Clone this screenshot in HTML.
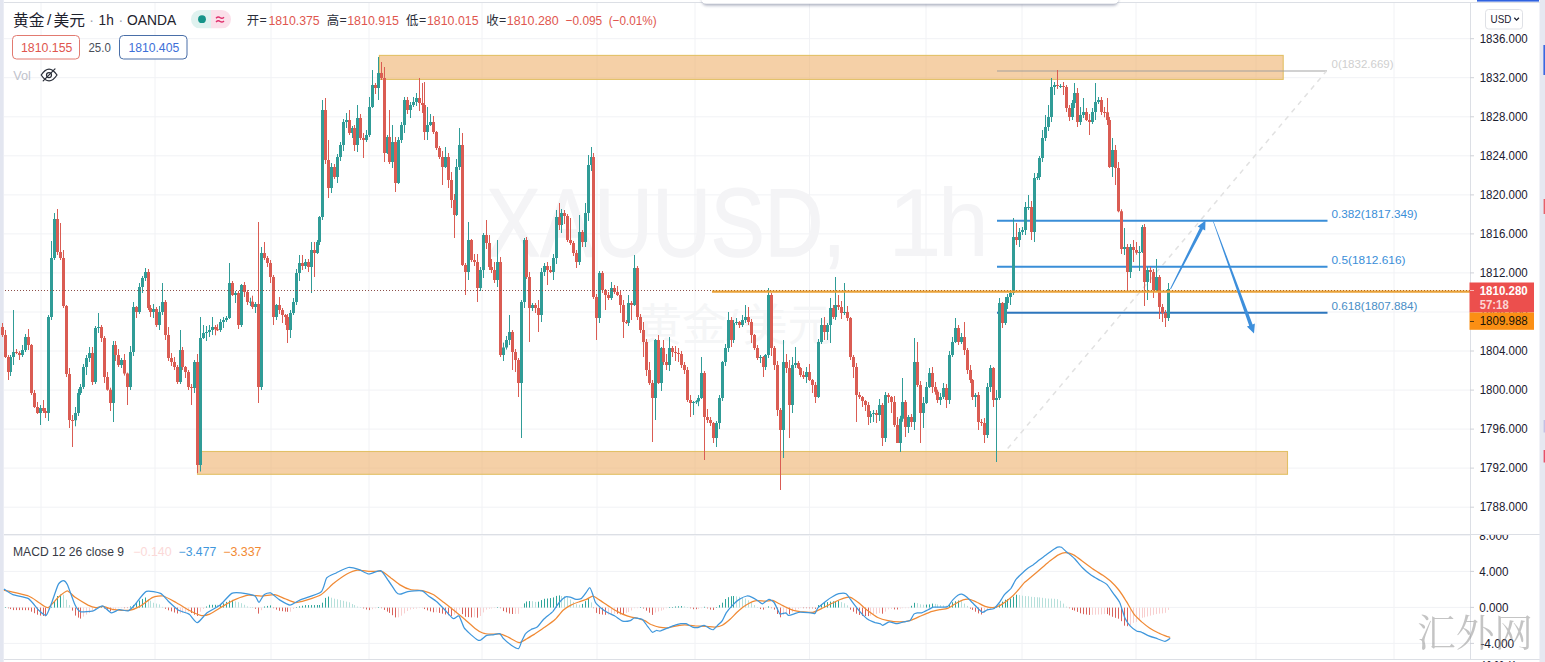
<!DOCTYPE html><html><head><meta charset="utf-8"><title>XAUUSD</title><style>html,body{margin:0;padding:0;background:#fff;width:1545px;height:662px;overflow:hidden}</style></head><body><svg width="1545" height="662" viewBox="0 0 1545 662" style="position:absolute;left:0;top:0;font-family:'Liberation Sans',sans-serif">
<rect width="1545" height="662" fill="#fff"/>
<path d="M41.0 3V659 M155.0 3V659 M271.0 3V659 M369.0 3V659 M482.0 3V659 M597.0 3V659 M695.0 3V659 M809.5 3V659 M926.0 3V659 M1022.0 3V659 M1136.0 3V659 M1256.0 3V659 M1394.0 3V659 M4 38.7H1470 M4 77.7H1470 M4 116.8H1470 M4 155.8H1470 M4 194.9H1470 M4 233.9H1470 M4 272.9H1470 M4 312.0H1470 M4 351.0H1470 M4 390.1H1470 M4 429.1H1470 M4 468.1H1470 M4 507.2H1470 M4 535.4H1470 M4 571.4H1470 M4 607.4H1470 M4 643.4H1470" stroke="#f1f2f5" stroke-width="1" fill="none"/>
<path d="M4 2.5H1540 M4 534.5H1540 M4 659.5H1540 M1470.5 3V659" stroke="#dcdfe5" stroke-width="1" fill="none"/>
<rect x="0" y="0" width="3.7" height="662" fill="#e3e6f0"/>
<rect x="1539.5" y="0" width="5.5" height="662" fill="#e6e8f1"/>
<rect x="1477" y="0" width="62" height="1.6" fill="#2f62e0"/>
<rect x="1543.4" y="45" width="1.6" height="30" fill="#3a68e0"/>
<rect x="1543.6" y="199" width="1.4" height="15" fill="#e8606a"/>
<rect x="1543.6" y="420" width="1.4" height="12.5" fill="#c4c0e4"/>
<rect x="1543.6" y="450" width="1.4" height="12.5" fill="#e8506a"/>
<text x="486.5" y="255.8" font-size="96.5" fill="#f4f4f6" stroke="#f4f4f6" stroke-width="1.4" stroke-linejoin="round" textLength="359" lengthAdjust="spacingAndGlyphs">XAUUSD,</text>
<text x="888" y="255.8" font-size="96.5" fill="#f4f4f6">1</text>
<text x="0" y="0" transform="translate(937.7,255.6) scale(0.951,1)" font-size="96.5" fill="#f4f4f6">h</text>
<text x="637" y="341" font-size="44" fill="#f5f6f7" font-family="'Liberation Sans','Noto Sans CJK SC',sans-serif" textLength="90" lengthAdjust="spacingAndGlyphs">黄金</text>
<text x="726" y="341" font-size="44" fill="#f5f6f7" font-family="'Liberation Sans','Noto Sans CJK SC',sans-serif">/</text>
<text x="743" y="341" font-size="44" fill="#f5f6f7" font-family="'Liberation Sans','Noto Sans CJK SC',sans-serif" textLength="89" lengthAdjust="spacingAndGlyphs">美元</text>
<rect x="379.4" y="55.4" width="903.8" height="24" fill="#eeb16c" fill-opacity="0.6" stroke="#e2c066" stroke-width="1.1"/>
<rect x="197.5" y="451.5" width="1090" height="22.8" fill="#eeb16c" fill-opacity="0.6" stroke="#e2c066" stroke-width="1.1"/>
<path d="M997 71H1327" stroke="#9c9c9c" stroke-opacity="0.62" stroke-width="1.6" fill="none"/>
<path d="M1007.7 448.5L1326.5 71" stroke="#e1e1e1" stroke-width="1.5" stroke-dasharray="5 5" fill="none"/>
<path d="M997 220.8H1327.5 M997 266.8H1327.5" stroke="#3a8ed8" stroke-width="2" fill="none"/>
<path d="M997 312.8H1327.5" stroke="#2d76bd" stroke-width="2" fill="none"/>
<text x="1331.5" y="67.8" font-size="11.8" fill="#cfcfcf" textLength="62" lengthAdjust="spacingAndGlyphs">0(1832.669)</text>
<text x="1331.5" y="218" font-size="11.8" fill="#3a8ed8" textLength="86" lengthAdjust="spacingAndGlyphs">0.382(1817.349)</text>
<text x="1331.5" y="264" font-size="11.8" fill="#3a8ed8" textLength="74" lengthAdjust="spacingAndGlyphs">0.5(1812.616)</text>
<text x="1331.5" y="309.7" font-size="11.8" fill="#4a8ec6" textLength="86" lengthAdjust="spacingAndGlyphs">0.618(1807.884)</text>
<path d="M10.5 355.0V376.0 M13.5 310.0V365.0 M22.5 345.0V357.0 M25.5 334.0V352.0 M40.5 405.0V425.0 M48.5 315.0V421.0 M51.5 241.0V320.0 M54.5 213.0V260.0 M75.5 407.0V426.3 M78.5 389.0V416.0 M80.5 384.0V395.0 M83.5 364.0V389.0 M86.5 355.0V375.0 M89.5 347.0V362.0 M95.5 326.0V384.0 M98.5 313.0V333.0 M113.5 341.0V422.0 M121.5 358.0V368.0 M130.5 346.0V390.0 M133.5 302.0V356.0 M139.5 283.0V314.0 M142.5 276.0V293.0 M145.5 268.0V281.0 M153.5 304.0V318.0 M159.5 306.0V330.0 M162.5 283.0V315.0 M180.5 330.0V384.0 M194.5 360.0V393.0 M200.5 317.0V471.5 M203.5 325.0V339.0 M206.5 326.0V341.0 M209.5 325.0V337.0 M212.5 317.0V335.0 M220.5 319.0V332.0 M223.5 317.0V328.0 M226.5 316.0V322.0 M229.5 263.0V319.0 M235.5 291.0V303.0 M241.5 284.0V327.0 M250.5 297.7V306.0 M255.5 302.0V313.0 M261.5 247.0V390.0 M276.5 304.0V320.0 M290.5 310.0V338.0 M293.5 298.0V315.0 M296.5 269.0V305.0 M299.5 255.0V281.0 M305.5 259.0V269.0 M311.5 242.0V293.0 M317.5 240.0V254.0 M319.5 216.0V245.0 M322.5 100.0V220.0 M331.5 163.0V193.0 M337.5 154.0V183.0 M340.5 142.0V161.0 M343.5 119.0V151.0 M346.5 113.0V128.0 M352.5 126.0V138.0 M357.5 105.0V152.0 M366.5 130.0V142.0 M369.5 97.0V137.0 M372.5 70.0V108.0 M378.5 57.0V100.0 M387.5 135.0V154.0 M392.5 125.0V168.0 M398.5 137.0V184.0 M401.5 122.0V143.0 M404.5 97.0V133.0 M410.5 102.0V118.0 M413.5 97.0V107.0 M416.5 93.0V106.0 M427.5 107.0V140.0 M430.5 114.0V126.0 M445.5 147.0V168.0 M456.5 159.0V216.0 M459.5 128.0V170.0 M468.5 222.0V280.0 M480.5 267.0V291.0 M483.5 233.0V278.0 M497.5 240.0V287.0 M503.5 342.6V361.0 M506.5 336.0V349.6 M509.5 315.0V345.0 M521.5 300.0V438.0 M524.5 238.0V308.0 M532.5 303.0V311.0 M541.5 268.0V322.0 M544.5 263.0V276.0 M553.5 254.0V280.0 M556.5 210.0V264.0 M561.5 209.0V233.0 M579.5 215.0V265.0 M585.5 203.0V247.0 M588.5 155.0V221.0 M591.5 147.0V171.0 M599.5 271.0V323.0 M611.5 282.0V300.0 M628.5 295.0V326.0 M634.5 255.0V306.0 M655.5 339.0V420.0 M661.5 347.0V391.0 M669.5 337.0V371.0 M693.5 401.0V415.0 M696.5 400.2V404.0 M698.5 395.0V406.2 M701.5 357.0V399.0 M716.5 421.0V447.0 M719.5 395.0V429.0 M722.5 361.0V401.0 M725.5 344.0V366.0 M728.5 312.0V352.0 M733.5 320.0V343.0 M736.5 318.0V325.0 M742.5 315.0V327.0 M745.5 305.0V323.0 M760.5 355.0V363.0 M765.5 354.0V370.0 M768.5 288.0V358.0 M783.5 340.0V458.0 M792.5 357.0V413.0 M795.5 347.0V368.0 M806.5 367.0V383.0 M818.5 339.0V398.0 M821.5 318.0V344.0 M827.5 323.0V340.0 M830.5 298.0V343.0 M835.5 277.0V320.0 M844.5 283.0V315.0 M870.5 411.0V423.0 M873.5 410.0V422.0 M879.5 399.0V421.0 M885.5 392.0V442.0 M900.5 415.8V452.0 M902.5 378.0V421.8 M908.5 415.0V433.0 M914.5 338.0V430.0 M923.5 397.0V428.0 M926.5 382.0V404.0 M929.5 368.0V388.0 M940.5 393.0V405.0 M943.5 383.0V399.0 M949.5 351.0V404.0 M952.5 337.0V357.0 M955.5 318.0V343.0 M961.5 333.0V344.0 M975.5 393.0V407.0 M987.5 383.0V438.0 M990.5 365.0V392.0 M996.5 390.0V462.0 M999.5 298.0V400.0 M1005.5 297.0V325.0 M1007.5 294.0V309.0 M1010.5 292.0V305.0 M1013.5 218.0V295.0 M1019.5 228.0V247.0 M1022.5 227.0V235.0 M1025.5 202.0V235.0 M1028.5 195.0V210.0 M1034.5 173.0V242.0 M1037.5 173.0V180.0 M1039.5 156.0V180.0 M1042.5 130.0V162.0 M1045.5 115.0V141.0 M1048.5 105.0V131.0 M1051.5 78.0V122.0 M1054.5 82.0V95.0 M1060.5 84.0V88.0 M1072.5 100.0V120.0 M1074.5 83.0V108.0 M1080.5 107.0V125.0 M1083.5 98.0V118.0 M1092.5 108.0V124.0 M1095.5 83.0V120.0 M1098.5 97.0V104.0 M1112.5 138.0V177.0 M1124.5 228.0V255.0 M1130.5 244.0V278.0 M1139.5 246.0V271.0 M1142.5 225.0V253.0 M1147.5 267.0V300.0 M1156.5 259.0V292.0 M1168.5 283.0V321.0" stroke="#309c97" stroke-width="1" fill="none"/>
<path d="M2.5 323.0V337.0 M5.5 330.0V358.0 M8.5 355.0V380.0 M16.5 349.0V354.1 M19.5 351.1V360.0 M28.5 329.0V350.0 M31.5 344.0V395.0 M34.5 390.0V408.0 M37.5 402.0V414.0 M43.5 400.0V413.0 M45.5 408.0V418.0 M57.5 209.0V255.0 M60.5 223.0V260.0 M63.5 250.0V308.0 M66.5 305.0V377.0 M69.5 368.0V428.0 M72.5 415.0V447.0 M92.5 347.0V385.0 M101.5 325.0V342.0 M104.5 336.0V383.0 M107.5 372.0V390.7 M110.5 387.7V411.0 M115.5 341.0V361.0 M118.5 349.0V367.0 M124.5 354.0V375.6 M127.5 372.6V405.0 M136.5 306.0V318.0 M148.5 269.0V310.0 M150.5 305.0V317.0 M156.5 307.0V327.0 M165.5 300.0V340.0 M168.5 327.0V361.0 M171.5 353.0V366.0 M174.5 357.0V370.0 M177.5 365.0V384.0 M182.5 347.0V370.0 M185.5 366.0V378.0 M188.5 370.0V390.0 M191.5 384.0V405.0 M197.5 354.0V473.0 M215.5 325.0V335.3 M217.5 324.3V331.0 M232.5 281.0V296.0 M238.5 291.0V329.0 M244.5 282.0V297.0 M247.5 290.0V305.0 M252.5 295.7V309.0 M258.5 222.0V403.0 M264.5 242.0V260.0 M267.5 256.0V267.0 M270.5 260.0V283.0 M273.5 275.0V325.0 M279.5 297.0V314.0 M282.5 308.0V323.0 M285.5 314.0V325.0 M287.5 314.0V343.0 M302.5 255.0V270.0 M308.5 259.0V272.0 M314.5 242.0V277.0 M325.5 98.0V164.0 M328.5 140.0V198.0 M334.5 164.0V179.0 M349.5 110.0V135.0 M354.5 125.0V151.0 M360.5 114.0V140.0 M363.5 133.0V158.0 M375.5 83.0V94.0 M381.5 62.0V80.0 M384.5 67.0V162.0 M389.5 110.0V164.0 M395.5 137.0V192.0 M407.5 97.0V114.0 M419.5 78.0V111.0 M422.5 83.0V113.0 M424.5 82.0V140.0 M433.5 116.0V134.0 M436.5 131.0V150.0 M439.5 146.0V159.0 M442.5 151.0V185.0 M448.5 153.0V188.0 M451.5 172.0V208.0 M454.5 194.0V238.0 M462.5 133.0V266.0 M465.5 263.0V295.0 M471.5 239.0V262.0 M474.5 254.0V266.0 M477.5 254.0V302.0 M486.5 220.0V249.0 M489.5 235.0V270.0 M491.5 259.0V273.0 M494.5 262.0V283.0 M500.5 257.0V357.0 M512.5 330.0V370.0 M515.5 349.0V372.0 M518.5 358.0V397.0 M526.5 237.0V279.0 M529.5 272.0V342.0 M535.5 303.0V313.0 M538.5 300.0V332.0 M547.5 262.0V285.0 M550.5 266.0V273.0 M559.5 203.0V230.0 M564.5 210.0V224.0 M567.5 214.0V242.0 M570.5 218.0V245.0 M573.5 241.0V256.0 M576.5 250.0V268.0 M582.5 230.0V247.0 M593.5 153.0V299.0 M596.5 294.0V340.0 M602.5 271.0V293.0 M605.5 289.0V310.0 M608.5 292.0V300.0 M614.5 285.0V294.0 M617.5 286.0V296.0 M620.5 291.0V313.0 M623.5 300.0V338.0 M626.5 320.0V324.0 M631.5 301.0V320.0 M637.5 266.0V320.0 M640.5 314.0V333.0 M643.5 322.0V357.0 M646.5 339.0V376.0 M649.5 362.0V385.0 M652.5 380.0V442.0 M658.5 335.0V384.0 M663.5 340.0V365.0 M666.5 354.0V370.0 M672.5 346.0V357.0 M675.5 346.0V361.0 M678.5 348.0V362.0 M681.5 351.0V368.0 M684.5 362.0V374.0 M687.5 367.0V402.0 M690.5 395.0V417.0 M704.5 371.0V460.0 M707.5 409.0V423.0 M710.5 417.0V426.0 M713.5 422.0V443.0 M731.5 317.0V347.0 M739.5 321.0V328.0 M748.5 307.0V325.0 M751.5 319.0V343.0 M754.5 334.0V350.0 M757.5 345.0V360.0 M763.5 356.0V377.0 M771.5 293.0V356.0 M774.5 346.0V370.0 M777.5 361.0V416.0 M780.5 408.0V490.0 M786.5 354.0V373.0 M789.5 360.0V438.0 M798.5 361.0V369.0 M800.5 367.0V377.1 M803.5 371.1V379.0 M809.5 364.0V381.0 M812.5 379.0V393.0 M815.5 382.0V403.0 M824.5 317.0V340.0 M833.5 305.0V319.0 M838.5 295.0V310.0 M841.5 301.0V319.0 M847.5 306.0V321.0 M850.5 317.0V360.0 M853.5 355.0V378.0 M856.5 363.0V422.0 M859.5 392.0V399.0 M862.5 396.0V407.0 M865.5 400.0V411.0 M868.5 402.0V425.0 M876.5 410.0V423.0 M882.5 403.0V446.0 M888.5 393.0V403.0 M891.5 396.0V413.0 M894.5 396.0V427.0 M897.5 417.0V443.0 M905.5 400.0V437.0 M911.5 414.0V427.0 M917.5 342.0V387.0 M920.5 381.0V443.0 M932.5 367.0V393.0 M935.5 382.0V394.7 M937.5 389.7V403.0 M946.5 384.0V408.0 M958.5 325.0V345.0 M964.5 322.0V355.0 M967.5 348.0V374.0 M970.5 365.0V383.0 M972.5 379.0V400.0 M978.5 392.0V430.0 M981.5 419.0V426.0 M984.5 418.0V443.0 M993.5 367.0V407.0 M1002.5 302.0V328.0 M1016.5 223.0V245.0 M1031.5 201.0V240.0 M1057.5 70.0V89.0 M1063.5 82.0V95.0 M1066.5 85.0V112.0 M1069.5 105.0V121.0 M1077.5 88.0V127.0 M1086.5 108.0V121.0 M1089.5 114.0V135.0 M1101.5 97.0V115.0 M1104.5 107.0V117.3 M1107.5 98.0V125.0 M1109.5 117.0V168.0 M1115.5 145.0V185.0 M1118.5 162.0V212.3 M1121.5 209.3V254.0 M1127.5 244.0V290.0 M1133.5 240.0V262.0 M1136.5 242.0V254.7 M1144.5 224.0V306.0 M1150.5 267.0V283.0 M1153.5 269.0V298.0 M1159.5 275.0V319.0 M1162.5 304.0V322.0 M1165.5 310.0V327.0" stroke="#da5c53" stroke-width="1" fill="none"/>
<path d="M10.5 357.0V372.0 M13.5 352.0V357.0 M22.5 350.0V355.0 M25.5 337.0V350.0 M40.5 408.0V413.0 M48.5 317.0V413.0 M51.5 258.0V317.0 M54.5 219.0V258.0 M75.5 413.0V420.3 M78.5 393.0V413.0 M80.5 387.0V393.0 M83.5 367.0V387.0 M86.5 358.0V367.0 M89.5 353.0V358.0 M95.5 328.0V382.0 M98.5 327.0V328.0 M113.5 345.0V403.0 M121.5 360.0V365.0 M130.5 352.0V387.0 M133.5 307.0V352.0 M139.5 287.0V312.0 M142.5 278.0V287.0 M145.5 272.0V278.0 M153.5 309.0V312.0 M159.5 312.0V325.0 M162.5 302.0V312.0 M180.5 350.0V382.0 M194.5 362.0V388.0 M200.5 338.0V465.0 M203.5 333.0V338.0 M206.5 332.0V333.0 M209.5 330.0V332.0 M212.5 327.0V330.0 M220.5 322.0V330.0 M223.5 320.0V322.0 M226.5 318.0V320.0 M229.5 283.0V318.0 M235.5 293.0V295.0 M241.5 285.0V325.0 M250.5 301.7V302.7 M255.5 304.0V307.0 M261.5 253.0V387.0 M276.5 305.0V317.0 M290.5 313.0V330.0 M293.5 302.0V313.0 M296.5 273.0V302.0 M299.5 263.0V273.0 M305.5 262.0V266.0 M311.5 250.0V267.0 M317.5 242.0V253.0 M319.5 217.0V242.0 M322.5 110.0V217.0 M331.5 167.0V188.0 M337.5 157.0V177.0 M340.5 145.0V157.0 M343.5 122.0V145.0 M346.5 120.0V122.0 M352.5 128.0V133.0 M357.5 118.0V145.0 M366.5 135.0V140.0 M369.5 107.0V135.0 M372.5 85.0V107.0 M378.5 73.0V88.0 M387.5 137.0V153.0 M392.5 142.0V162.0 M398.5 140.0V183.0 M401.5 125.0V140.0 M404.5 100.0V125.0 M410.5 105.0V110.0 M413.5 102.0V105.0 M416.5 98.0V102.0 M427.5 125.0V132.0 M430.5 122.0V125.0 M445.5 157.0V167.0 M456.5 167.0V215.0 M459.5 145.0V167.0 M468.5 240.0V272.0 M480.5 270.0V288.0 M483.5 235.0V270.0 M497.5 262.0V280.0 M503.5 347.6V355.0 M506.5 340.0V347.6 M509.5 332.0V340.0 M521.5 302.0V383.0 M524.5 240.0V302.0 M532.5 305.0V308.0 M541.5 272.0V315.0 M544.5 266.0V272.0 M553.5 258.0V272.0 M556.5 217.0V258.0 M561.5 213.0V225.0 M579.5 232.0V262.0 M585.5 213.0V242.0 M588.5 165.0V213.0 M591.5 157.0V165.0 M599.5 273.0V318.0 M611.5 288.0V298.0 M628.5 303.0V323.0 M634.5 268.0V305.0 M655.5 340.0V398.0 M661.5 348.0V383.0 M669.5 348.0V365.0 M693.5 402.0V403.0 M696.5 401.2V402.2 M698.5 398.0V401.2 M701.5 373.0V398.0 M716.5 423.0V438.0 M719.5 398.0V423.0 M722.5 362.0V398.0 M725.5 348.0V362.0 M728.5 320.0V348.0 M733.5 323.0V340.0 M736.5 322.0V323.0 M742.5 320.0V325.0 M745.5 317.0V320.0 M760.5 357.0V358.0 M765.5 355.0V367.0 M768.5 295.0V355.0 M783.5 362.0V430.0 M792.5 365.0V405.0 M795.5 363.0V365.0 M806.5 372.0V377.0 M818.5 342.0V397.0 M821.5 325.0V342.0 M827.5 325.0V332.0 M830.5 308.0V325.0 M835.5 305.0V317.0 M844.5 312.0V313.0 M870.5 414.0V417.0 M873.5 413.0V414.0 M879.5 405.0V415.0 M885.5 395.0V438.0 M900.5 418.8V443.0 M902.5 402.0V418.8 M908.5 417.0V427.0 M914.5 362.0V422.0 M923.5 403.0V413.0 M926.5 387.0V403.0 M929.5 373.0V387.0 M940.5 397.0V400.0 M943.5 388.0V397.0 M949.5 355.0V400.0 M952.5 342.0V355.0 M955.5 328.0V342.0 M961.5 337.0V342.0 M975.5 395.0V397.0 M987.5 387.0V435.0 M990.5 368.0V387.0 M996.5 398.0V400.0 M999.5 303.0V398.0 M1005.5 303.0V323.0 M1007.5 297.0V303.0 M1010.5 293.0V297.0 M1013.5 237.0V293.0 M1019.5 232.0V240.0 M1022.5 230.0V232.0 M1025.5 207.0V230.0 M1028.5 207.0V208.0 M1034.5 178.0V232.0 M1037.5 177.0V178.0 M1039.5 158.0V177.0 M1042.5 138.0V158.0 M1045.5 127.0V138.0 M1048.5 117.0V127.0 M1051.5 87.0V117.0 M1054.5 85.0V87.0 M1060.5 86.0V87.0 M1072.5 103.0V117.0 M1074.5 93.0V103.0 M1080.5 115.0V122.0 M1083.5 112.0V115.0 M1092.5 112.0V122.0 M1095.5 102.0V112.0 M1098.5 100.0V102.0 M1112.5 150.0V167.0 M1124.5 247.0V249.0 M1130.5 247.0V272.0 M1139.5 252.0V253.0 M1142.5 227.0V252.0 M1147.5 270.0V282.0 M1156.5 277.0V290.0 M1168.5 289.0V318.0" stroke="#309c97" stroke-width="3" fill="none"/>
<path d="M2.5 327.0V335.0 M5.5 335.0V357.0 M8.5 357.0V372.0 M16.5 352.0V353.1 M19.5 353.1V355.0 M28.5 337.0V345.0 M31.5 345.0V393.0 M34.5 393.0V407.0 M37.5 407.0V413.0 M43.5 408.0V411.0 M45.5 411.0V413.0 M57.5 219.0V252.0 M60.5 252.0V258.0 M63.5 258.0V306.0 M66.5 306.0V374.0 M69.5 374.0V420.0 M72.5 420.0V421.0 M92.5 353.0V382.0 M101.5 327.0V338.0 M104.5 338.0V377.0 M107.5 377.0V389.7 M110.5 389.7V403.0 M115.5 345.0V355.0 M118.5 355.0V365.0 M124.5 360.0V373.6 M127.5 373.6V387.0 M136.5 307.0V312.0 M148.5 272.0V308.0 M150.5 308.0V312.0 M156.5 309.0V325.0 M165.5 302.0V335.0 M168.5 335.0V358.0 M171.5 358.0V362.0 M174.5 362.0V367.0 M177.5 367.0V382.0 M182.5 350.0V367.0 M185.5 367.0V372.0 M188.5 372.0V387.0 M191.5 387.0V388.0 M197.5 362.0V465.0 M215.5 327.0V329.3 M217.5 329.3V330.3 M232.5 283.0V295.0 M238.5 293.0V325.0 M244.5 285.0V292.0 M247.5 292.0V302.0 M252.5 301.7V307.0 M258.5 304.0V387.0 M264.5 253.0V258.0 M267.5 258.0V263.0 M270.5 263.0V277.0 M273.5 277.0V317.0 M279.5 305.0V310.0 M282.5 310.0V315.0 M285.5 315.0V317.0 M287.5 317.0V330.0 M302.5 263.0V266.0 M308.5 262.0V267.0 M314.5 250.0V253.0 M325.5 110.0V160.0 M328.5 160.0V188.0 M334.5 167.0V177.0 M349.5 120.0V133.0 M354.5 128.0V145.0 M360.5 118.0V138.0 M363.5 138.0V140.0 M375.5 85.0V88.0 M381.5 73.0V78.0 M384.5 78.0V153.0 M389.5 137.0V162.0 M395.5 142.0V183.0 M407.5 100.0V110.0 M419.5 98.0V103.0 M422.5 103.0V105.0 M424.5 105.0V132.0 M433.5 122.0V132.0 M436.5 132.0V148.0 M439.5 148.0V157.0 M442.5 157.0V167.0 M448.5 157.0V180.0 M451.5 180.0V200.0 M454.5 200.0V215.0 M462.5 145.0V265.0 M465.5 265.0V272.0 M471.5 240.0V260.0 M474.5 260.0V262.0 M477.5 262.0V288.0 M486.5 235.0V243.0 M489.5 243.0V267.0 M491.5 267.0V270.0 M494.5 270.0V280.0 M500.5 262.0V355.0 M512.5 332.0V352.0 M515.5 352.0V360.0 M518.5 360.0V383.0 M526.5 240.0V277.0 M529.5 277.0V308.0 M535.5 305.0V308.0 M538.5 308.0V315.0 M547.5 266.0V270.0 M550.5 270.0V272.0 M559.5 217.0V225.0 M564.5 213.0V216.0 M567.5 216.0V240.0 M570.5 240.0V243.0 M573.5 243.0V253.0 M576.5 253.0V262.0 M582.5 232.0V242.0 M593.5 157.0V297.0 M596.5 297.0V318.0 M602.5 273.0V290.0 M605.5 290.0V295.0 M608.5 295.0V298.0 M614.5 288.0V292.0 M617.5 292.0V295.0 M620.5 295.0V305.0 M623.5 305.0V322.0 M626.5 322.0V323.0 M631.5 303.0V305.0 M637.5 268.0V317.0 M640.5 317.0V330.0 M643.5 330.0V342.0 M646.5 342.0V370.0 M649.5 370.0V383.0 M652.5 383.0V398.0 M658.5 340.0V383.0 M663.5 348.0V362.0 M666.5 362.0V365.0 M672.5 348.0V352.0 M675.5 352.0V353.0 M678.5 353.0V354.0 M681.5 354.0V365.0 M684.5 365.0V370.0 M687.5 370.0V400.0 M690.5 400.0V403.0 M704.5 373.0V417.0 M707.5 417.0V420.0 M710.5 420.0V423.0 M713.5 423.0V438.0 M731.5 320.0V340.0 M739.5 322.0V325.0 M748.5 317.0V322.0 M751.5 322.0V335.0 M754.5 335.0V348.0 M757.5 348.0V358.0 M763.5 357.0V367.0 M771.5 295.0V348.0 M774.5 348.0V365.0 M777.5 365.0V410.0 M780.5 410.0V430.0 M786.5 362.0V368.0 M789.5 368.0V405.0 M798.5 363.0V368.0 M800.5 368.0V375.1 M803.5 375.1V377.0 M809.5 372.0V380.0 M812.5 380.0V385.0 M815.5 385.0V397.0 M824.5 325.0V332.0 M833.5 308.0V317.0 M838.5 305.0V307.0 M841.5 307.0V313.0 M847.5 312.0V318.0 M850.5 318.0V357.0 M853.5 357.0V367.0 M856.5 367.0V395.0 M859.5 395.0V397.0 M862.5 397.0V401.0 M865.5 401.0V405.0 M868.5 405.0V417.0 M876.5 413.0V415.0 M882.5 405.0V438.0 M888.5 395.0V397.0 M891.5 397.0V402.0 M894.5 402.0V425.0 M897.5 425.0V443.0 M905.5 402.0V427.0 M911.5 417.0V422.0 M917.5 362.0V385.0 M920.5 385.0V413.0 M932.5 373.0V387.0 M935.5 387.0V391.7 M937.5 391.7V400.0 M946.5 388.0V400.0 M958.5 328.0V342.0 M964.5 337.0V350.0 M967.5 350.0V370.0 M970.5 370.0V380.0 M972.5 380.0V397.0 M978.5 395.0V422.0 M981.5 422.0V423.0 M984.5 423.0V435.0 M993.5 368.0V400.0 M1002.5 303.0V323.0 M1016.5 237.0V240.0 M1031.5 207.0V232.0 M1057.5 85.0V86.0 M1063.5 86.0V87.0 M1066.5 87.0V108.0 M1069.5 108.0V117.0 M1077.5 93.0V122.0 M1086.5 112.0V120.0 M1089.5 120.0V122.0 M1101.5 100.0V112.0 M1104.5 112.0V113.0 M1107.5 112.3V120.0 M1109.5 120.0V167.0 M1115.5 150.0V168.0 M1118.5 168.0V211.3 M1121.5 211.3V249.0 M1127.5 247.0V272.0 M1133.5 247.0V250.0 M1136.5 250.0V252.7 M1144.5 227.0V282.0 M1150.5 270.0V272.0 M1153.5 272.0V290.0 M1159.5 277.0V307.0 M1162.5 307.0V313.0 M1165.5 313.0V318.0" stroke="#da5c53" stroke-width="3" fill="none"/>
<path d="M5 290.5H1470" stroke="#8c4f49" stroke-width="1" stroke-dasharray="1 2" fill="none" shape-rendering="crispEdges"/>
<path d="M712 291.6H1470" stroke="#e9a238" stroke-width="2.3" fill="none"/>
<path d="M713 290.5H1470" stroke="#b86a1c" stroke-width="1" stroke-dasharray="1 2" fill="none" shape-rendering="crispEdges"/>
<path d="M1170.9 289.2 L1202.9 229.3 L1205.2 230.4 L1205.5 220.5 L1197.6 226.6 L1199.9 227.7 L1170.1 288.8Z" fill="#3d8fdc"/>
<path d="M1213.0 221.6 L1249.2 325.7 L1246.9 326.5 L1254.0 333.5 L1254.9 323.6 L1252.6 324.4 L1213.6 221.4Z" fill="#3d8fdc"/>
<path d="M1470 38.7h4" stroke="#cfd2d8" stroke-width="1"/>
<text x="1479.7" y="42.9" font-size="12.2" fill="#1c2030" textLength="48" lengthAdjust="spacingAndGlyphs">1836.000</text>
<path d="M1470 77.7h4" stroke="#cfd2d8" stroke-width="1"/>
<text x="1479.7" y="81.9" font-size="12.2" fill="#1c2030" textLength="48" lengthAdjust="spacingAndGlyphs">1832.000</text>
<path d="M1470 116.8h4" stroke="#cfd2d8" stroke-width="1"/>
<text x="1479.7" y="121.0" font-size="12.2" fill="#1c2030" textLength="48" lengthAdjust="spacingAndGlyphs">1828.000</text>
<path d="M1470 155.8h4" stroke="#cfd2d8" stroke-width="1"/>
<text x="1479.7" y="160.0" font-size="12.2" fill="#1c2030" textLength="48" lengthAdjust="spacingAndGlyphs">1824.000</text>
<path d="M1470 194.9h4" stroke="#cfd2d8" stroke-width="1"/>
<text x="1479.7" y="199.1" font-size="12.2" fill="#1c2030" textLength="48" lengthAdjust="spacingAndGlyphs">1820.000</text>
<path d="M1470 233.9h4" stroke="#cfd2d8" stroke-width="1"/>
<text x="1479.7" y="238.1" font-size="12.2" fill="#1c2030" textLength="48" lengthAdjust="spacingAndGlyphs">1816.000</text>
<path d="M1470 272.9h4" stroke="#cfd2d8" stroke-width="1"/>
<text x="1479.7" y="277.1" font-size="12.2" fill="#1c2030" textLength="48" lengthAdjust="spacingAndGlyphs">1812.000</text>
<path d="M1470 312.0h4" stroke="#cfd2d8" stroke-width="1"/>
<text x="1479.7" y="316.2" font-size="12.2" fill="#1c2030" textLength="48" lengthAdjust="spacingAndGlyphs">1808.000</text>
<path d="M1470 351.0h4" stroke="#cfd2d8" stroke-width="1"/>
<text x="1479.7" y="355.2" font-size="12.2" fill="#1c2030" textLength="48" lengthAdjust="spacingAndGlyphs">1804.000</text>
<path d="M1470 390.1h4" stroke="#cfd2d8" stroke-width="1"/>
<text x="1479.7" y="394.3" font-size="12.2" fill="#1c2030" textLength="48" lengthAdjust="spacingAndGlyphs">1800.000</text>
<path d="M1470 429.1h4" stroke="#cfd2d8" stroke-width="1"/>
<text x="1479.7" y="433.3" font-size="12.2" fill="#1c2030" textLength="48" lengthAdjust="spacingAndGlyphs">1796.000</text>
<path d="M1470 468.1h4" stroke="#cfd2d8" stroke-width="1"/>
<text x="1479.7" y="472.3" font-size="12.2" fill="#1c2030" textLength="48" lengthAdjust="spacingAndGlyphs">1792.000</text>
<path d="M1470 507.2h4" stroke="#cfd2d8" stroke-width="1"/>
<text x="1479.7" y="511.4" font-size="12.2" fill="#1c2030" textLength="48" lengthAdjust="spacingAndGlyphs">1788.000</text>
<path d="M1470 571.4h4" stroke="#cfd2d8" stroke-width="1"/>
<text x="1479.2" y="575.6" font-size="12.2" fill="#1c2030" textLength="29.2" lengthAdjust="spacingAndGlyphs">4.000</text>
<path d="M1470 607.4h4" stroke="#cfd2d8" stroke-width="1"/>
<text x="1479.2" y="611.6" font-size="12.2" fill="#1c2030" textLength="29.2" lengthAdjust="spacingAndGlyphs">0.000</text>
<path d="M1470 643.4h4" stroke="#cfd2d8" stroke-width="1"/>
<text x="1480.4" y="647.6" font-size="12.2" fill="#1c2030" textLength="33.8" lengthAdjust="spacingAndGlyphs">-4.000</text>
<clipPath id="c8"><rect x="1470" y="535" width="70" height="20"/></clipPath>
<text clip-path="url(#c8)" x="1479.2" y="539.5" font-size="12.2" fill="#1c2030" textLength="29.2" lengthAdjust="spacingAndGlyphs">8.000</text>
<rect x="1469.5" y="282.5" width="64.5" height="30" fill="#ec4f4d"/>
<path d="M1470 290.5h4" stroke="#f7b5b2" stroke-width="1"/>
<text x="1479.7" y="295" font-size="12.2" font-weight="bold" fill="#fff" textLength="48" lengthAdjust="spacingAndGlyphs">1810.280</text>
<text x="1479.7" y="308.6" font-size="12.2" font-weight="bold" fill="#fbd5d3" textLength="29" lengthAdjust="spacingAndGlyphs">57:18</text>
<rect x="1469.5" y="312.5" width="64.5" height="17.3" fill="#fb8f14"/>
<path d="M1470 321.5h4" stroke="#5a3a10" stroke-width="1"/>
<text x="1479.7" y="325.3" font-size="12.2" fill="#1a1408" textLength="48" lengthAdjust="spacingAndGlyphs">1809.988</text>
<rect x="1485.5" y="9.5" width="37" height="19.5" rx="3" fill="#fff" stroke="#dfe1e6" stroke-width="1"/>
<text x="1490.6" y="23.2" font-size="11.6" fill="#1c2030" textLength="20.8" lengthAdjust="spacingAndGlyphs">USD</text>
<path d="M1514.3 17.8l2.3 2.3l2.3 -2.3" stroke="#1c2030" stroke-width="1.3" fill="none"/>
<path d="M5.5 607.6V607.0 M51.5 607.6V606.7 M54.5 607.6V601.4 M57.5 607.6V596.0 M60.5 607.6V594.6 M101.5 607.6V607.0 M130.5 607.6V606.4 M133.5 607.6V604.9 M136.5 607.6V602.9 M139.5 607.6V600.5 M142.5 607.6V598.9 M145.5 607.6V597.5 M206.5 607.6V606.5 M209.5 607.6V604.8 M212.5 607.6V604.8 M215.5 607.6V604.8 M220.5 607.6V604.6 M223.5 607.6V603.3 M226.5 607.6V601.9 M229.5 607.6V600.6 M232.5 607.6V599.9 M264.5 607.6V606.5 M267.5 607.6V605.9 M270.5 607.6V605.4 M296.5 607.6V607.0 M299.5 607.6V606.3 M302.5 607.6V605.7 M305.5 607.6V605.1 M308.5 607.6V605.1 M311.5 607.6V605.1 M314.5 607.6V605.1 M317.5 607.6V605.0 M319.5 607.6V605.0 M322.5 607.6V602.7 M325.5 607.6V597.9 M328.5 607.6V596.6 M378.5 607.6V607.0 M497.5 607.6V607.0 M524.5 607.6V603.4 M526.5 607.6V601.5 M529.5 607.6V601.1 M538.5 607.6V601.7 M541.5 607.6V600.1 M544.5 607.6V598.8 M547.5 607.6V598.5 M550.5 607.6V598.1 M553.5 607.6V597.4 M556.5 607.6V595.9 M559.5 607.6V595.4 M582.5 607.6V603.9 M585.5 607.6V601.2 M588.5 607.6V598.5 M640.5 607.6V607.0 M669.5 607.6V607.0 M672.5 607.6V607.0 M675.5 607.6V606.5 M678.5 607.6V606.3 M681.5 607.6V606.1 M704.5 607.6V606.8 M716.5 607.6V607.0 M719.5 607.6V605.1 M722.5 607.6V602.7 M725.5 607.6V599.0 M728.5 607.6V597.2 M731.5 607.6V596.2 M733.5 607.6V596.0 M768.5 607.6V606.4 M818.5 607.6V605.1 M821.5 607.6V604.0 M824.5 607.6V602.9 M827.5 607.6V602.1 M830.5 607.6V601.6 M833.5 607.6V601.3 M835.5 607.6V601.2 M838.5 607.6V601.0 M911.5 607.6V605.8 M914.5 607.6V602.8 M926.5 607.6V604.6 M929.5 607.6V604.4 M932.5 607.6V603.6 M949.5 607.6V604.4 M952.5 607.6V602.3 M955.5 607.6V601.3 M958.5 607.6V600.5 M996.5 607.6V606.9 M999.5 607.6V604.4 M1002.5 607.6V601.6 M1005.5 607.6V599.7 M1007.5 607.6V599.2 M1010.5 607.6V598.5 M1013.5 607.6V596.7 M1016.5 607.6V594.7" stroke="#2fa69a" stroke-width="1" fill="none"/>
<path d="M63.5 607.6V594.6 M66.5 607.6V599.7 M69.5 607.6V605.1 M148.5 607.6V599.0 M150.5 607.6V600.7 M153.5 607.6V602.8 M156.5 607.6V603.6 M159.5 607.6V604.4 M162.5 607.6V606.9 M217.5 607.6V604.8 M235.5 607.6V601.4 M238.5 607.6V602.2 M241.5 607.6V603.2 M244.5 607.6V604.8 M247.5 607.6V606.4 M250.5 607.6V607.0 M252.5 607.6V607.0 M331.5 607.6V597.7 M334.5 607.6V598.7 M337.5 607.6V599.3 M340.5 607.6V600.1 M343.5 607.6V600.8 M346.5 607.6V601.6 M349.5 607.6V602.3 M352.5 607.6V604.0 M354.5 607.6V605.1 M357.5 607.6V606.6 M360.5 607.6V607.0 M532.5 607.6V601.2 M535.5 607.6V601.9 M561.5 607.6V596.0 M564.5 607.6V596.1 M567.5 607.6V597.2 M570.5 607.6V599.5 M573.5 607.6V601.9 M576.5 607.6V604.1 M579.5 607.6V604.8 M591.5 607.6V602.4 M684.5 607.6V606.5 M687.5 607.6V607.0 M736.5 607.6V596.4 M739.5 607.6V596.8 M742.5 607.6V597.7 M745.5 607.6V598.5 M748.5 607.6V600.3 M751.5 607.6V602.3 M754.5 607.6V605.1 M757.5 607.6V607.0 M841.5 607.6V602.1 M844.5 607.6V603.3 M847.5 607.6V605.4 M917.5 607.6V603.1 M920.5 607.6V604.3 M923.5 607.6V604.7 M935.5 607.6V603.9 M937.5 607.6V604.4 M940.5 607.6V605.1 M943.5 607.6V605.4 M946.5 607.6V605.7 M961.5 607.6V601.2 M964.5 607.6V603.6 M967.5 607.6V605.9 M1019.5 607.6V595.1 M1022.5 607.6V595.7 M1025.5 607.6V596.1 M1028.5 607.6V596.2 M1031.5 607.6V596.8 M1034.5 607.6V597.1 M1037.5 607.6V597.3 M1039.5 607.6V597.4 M1042.5 607.6V597.8 M1045.5 607.6V598.3 M1048.5 607.6V598.6 M1051.5 607.6V598.6 M1054.5 607.6V598.8 M1057.5 607.6V599.2 M1060.5 607.6V600.8 M1063.5 607.6V603.6 M1066.5 607.6V606.6" stroke="#b6e0db" stroke-width="1" fill="none"/>
<path d="M8.5 607.6V608.3 M10.5 607.6V609.1 M13.5 607.6V610.1 M16.5 607.6V610.1 M19.5 607.6V610.1 M22.5 607.6V610.1 M25.5 607.6V610.2 M28.5 607.6V610.2 M31.5 607.6V611.7 M34.5 607.6V613.2 M37.5 607.6V614.7 M40.5 607.6V615.6 M43.5 607.6V616.0 M45.5 607.6V616.3 M72.5 607.6V610.6 M75.5 607.6V615.6 M78.5 607.6V617.6 M80.5 607.6V618.6 M104.5 607.6V608.5 M107.5 607.6V609.8 M110.5 607.6V611.2 M124.5 607.6V608.2 M127.5 607.6V608.1 M165.5 607.6V608.8 M168.5 607.6V610.3 M171.5 607.6V611.4 M174.5 607.6V612.5 M177.5 607.6V613.5 M191.5 607.6V613.0 M194.5 607.6V614.7 M197.5 607.6V616.0 M255.5 607.6V608.8 M258.5 607.6V613.6 M273.5 607.6V608.2 M276.5 607.6V609.6 M279.5 607.6V610.8 M282.5 607.6V611.2 M285.5 607.6V611.6 M287.5 607.6V611.8 M363.5 607.6V608.4 M366.5 607.6V609.5 M369.5 607.6V610.1 M381.5 607.6V608.2 M384.5 607.6V609.9 M387.5 607.6V611.6 M389.5 607.6V612.9 M392.5 607.6V615.2 M395.5 607.6V617.4 M424.5 607.6V609.1 M427.5 607.6V610.4 M430.5 607.6V611.4 M433.5 607.6V612.3 M439.5 607.6V612.9 M442.5 607.6V613.7 M445.5 607.6V614.5 M448.5 607.6V615.2 M451.5 607.6V616.0 M462.5 607.6V614.1 M465.5 607.6V616.8 M468.5 607.6V617.1 M471.5 607.6V617.4 M477.5 607.6V617.7 M500.5 607.6V608.2 M503.5 607.6V611.1 M506.5 607.6V612.3 M509.5 607.6V613.5 M512.5 607.6V614.0 M593.5 607.6V608.2 M596.5 607.6V612.9 M599.5 607.6V614.1 M602.5 607.6V614.6 M605.5 607.6V614.8 M617.5 607.6V613.7 M620.5 607.6V614.4 M623.5 607.6V614.4 M643.5 607.6V608.5 M646.5 607.6V610.7 M649.5 607.6V612.7 M652.5 607.6V614.9 M690.5 607.6V608.3 M693.5 607.6V609.2 M696.5 607.6V609.2 M707.5 607.6V608.4 M710.5 607.6V609.6 M713.5 607.6V610.0 M760.5 607.6V609.1 M763.5 607.6V609.6 M771.5 607.6V608.2 M774.5 607.6V609.6 M777.5 607.6V614.0 M780.5 607.6V617.3 M789.5 607.6V614.1 M803.5 607.6V608.2 M806.5 607.6V608.2 M809.5 607.6V608.3 M812.5 607.6V608.4 M815.5 607.6V608.9 M850.5 607.6V609.7 M853.5 607.6V611.7 M856.5 607.6V613.7 M859.5 607.6V615.0 M862.5 607.6V615.9 M865.5 607.6V616.1 M868.5 607.6V616.1 M882.5 607.6V613.7 M894.5 607.6V609.4 M897.5 607.6V609.5 M970.5 607.6V608.7 M972.5 607.6V609.9 M975.5 607.6V611.7 M978.5 607.6V613.4 M981.5 607.6V614.5 M1069.5 607.6V608.3 M1072.5 607.6V610.0 M1074.5 607.6V610.6 M1077.5 607.6V611.9 M1080.5 607.6V613.3 M1083.5 607.6V614.2 M1086.5 607.6V614.5 M1089.5 607.6V614.9 M1107.5 607.6V614.1 M1109.5 607.6V615.4 M1112.5 607.6V616.8 M1115.5 607.6V617.8 M1118.5 607.6V618.7 M1121.5 607.6V621.2 M1124.5 607.6V625.7 M1127.5 607.6V626.2" stroke="#d9625c" stroke-width="1" fill="none"/>
<path d="M48.5 607.6V610.5 M83.5 607.6V616.6 M86.5 607.6V614.6 M89.5 607.6V613.0 M92.5 607.6V611.8 M95.5 607.6V609.6 M98.5 607.6V608.3 M113.5 607.6V610.0 M115.5 607.6V609.0 M118.5 607.6V608.2 M121.5 607.6V608.2 M180.5 607.6V613.4 M182.5 607.6V612.9 M185.5 607.6V612.3 M188.5 607.6V611.6 M200.5 607.6V611.7 M203.5 607.6V609.0 M261.5 607.6V610.2 M290.5 607.6V611.7 M293.5 607.6V609.0 M372.5 607.6V609.2 M375.5 607.6V608.3 M398.5 607.6V617.3 M401.5 607.6V615.7 M404.5 607.6V613.4 M407.5 607.6V611.0 M410.5 607.6V609.5 M413.5 607.6V609.0 M416.5 607.6V608.6 M419.5 607.6V608.1 M422.5 607.6V608.2 M436.5 607.6V612.2 M454.5 607.6V614.6 M456.5 607.6V612.1 M459.5 607.6V609.6 M474.5 607.6V617.2 M480.5 607.6V616.0 M483.5 607.6V612.4 M486.5 607.6V609.6 M489.5 607.6V608.8 M491.5 607.6V608.5 M494.5 607.6V608.1 M515.5 607.6V613.9 M518.5 607.6V613.8 M521.5 607.6V608.2 M608.5 607.6V614.6 M611.5 607.6V614.2 M614.5 607.6V613.7 M626.5 607.6V612.9 M628.5 607.6V612.0 M631.5 607.6V610.5 M634.5 607.6V608.2 M637.5 607.6V608.2 M655.5 607.6V612.5 M658.5 607.6V611.4 M661.5 607.6V610.7 M663.5 607.6V609.7 M666.5 607.6V608.2 M698.5 607.6V609.0 M701.5 607.6V608.2 M765.5 607.6V608.2 M783.5 607.6V615.1 M786.5 607.6V613.8 M792.5 607.6V612.2 M795.5 607.6V610.5 M798.5 607.6V608.9 M800.5 607.6V608.1 M870.5 607.6V615.7 M873.5 607.6V615.0 M876.5 607.6V613.9 M879.5 607.6V613.1 M885.5 607.6V611.6 M888.5 607.6V609.3 M891.5 607.6V609.0 M900.5 607.6V608.6 M902.5 607.6V608.2 M905.5 607.6V608.2 M908.5 607.6V608.2 M984.5 607.6V612.9 M987.5 607.6V610.7 M990.5 607.6V609.5 M993.5 607.6V608.7 M1092.5 607.6V614.8 M1095.5 607.6V614.7 M1098.5 607.6V614.5 M1101.5 607.6V614.4 M1104.5 607.6V614.1 M1130.5 607.6V625.4 M1133.5 607.6V622.8 M1136.5 607.6V621.9 M1139.5 607.6V619.6 M1142.5 607.6V617.8 M1144.5 607.6V617.3 M1147.5 607.6V616.5 M1150.5 607.6V615.6 M1153.5 607.6V614.8 M1156.5 607.6V614.1 M1159.5 607.6V613.6 M1162.5 607.6V613.4 M1165.5 607.6V612.8 M1168.5 607.6V609.9" stroke="#f8cfcf" stroke-width="1" fill="none"/>
<path d="M3.9 590.1C6.3 590.7 25.0 594.8 28.5 596.0C32.0 597.3 36.9 601.3 38.8 602.5C40.8 603.7 46.0 608.2 47.9 607.7C49.8 607.2 56.3 599.0 58.3 597.3C60.2 595.6 65.6 590.8 67.3 590.8C69.0 590.8 73.0 595.9 75.1 597.3C77.2 598.7 86.0 604.0 88.0 605.1C90.1 606.1 94.2 607.5 95.8 607.7C97.3 607.8 101.7 606.2 103.6 606.4C105.4 606.6 111.3 609.4 113.9 609.7C116.5 610.1 126.9 610.6 129.4 610.3C132.0 609.9 137.5 607.7 139.8 606.4C142.1 605.1 150.4 598.3 152.8 597.3C155.1 596.3 160.8 595.5 163.1 596.0C165.4 596.5 173.5 601.1 176.1 602.5C178.6 603.9 186.5 609.0 189.0 610.3C191.5 611.6 198.6 615.0 200.6 615.4C202.7 615.8 207.5 615.0 209.7 614.1C211.9 613.2 220.1 607.9 222.7 606.4C225.2 604.9 233.0 600.5 235.6 599.4C238.2 598.3 246.0 595.6 248.5 595.2C251.1 594.9 258.9 596.1 261.5 596.0C264.1 596.0 272.1 594.5 274.4 594.7C276.8 595.0 282.7 597.8 284.8 598.6C286.9 599.4 293.1 602.3 295.1 602.5C297.2 602.7 302.9 601.2 305.5 600.4C308.1 599.6 318.2 596.5 321.0 594.7C323.9 593.0 331.4 585.1 334.0 583.1C336.6 581.0 344.6 575.3 346.9 574.0C349.3 572.7 355.0 570.4 357.3 570.1C359.6 569.9 367.8 571.3 370.2 571.4C372.7 571.6 379.8 570.8 381.9 571.4C383.9 572.1 389.1 576.6 390.9 577.9C392.8 579.2 398.1 583.7 400.0 584.9C401.9 586.1 408.0 589.0 410.4 589.5C412.7 590.1 421.0 590.3 423.3 590.8C425.6 591.4 431.6 593.6 433.7 594.7C435.7 595.9 441.9 600.9 444.0 602.5C446.1 604.1 452.3 609.1 454.4 610.8C456.4 612.5 462.7 617.6 464.7 619.3C466.8 621.1 473.3 627.0 475.1 628.4C476.9 629.8 481.3 632.5 482.8 633.0C484.4 633.6 488.8 634.0 490.6 634.1C492.4 634.2 499.2 633.7 501.0 634.1C502.8 634.4 506.9 636.6 508.7 637.4C510.6 638.3 517.3 642.5 519.1 642.6C520.9 642.8 525.3 639.6 526.9 638.7C528.4 637.9 532.8 635.2 534.6 634.1C536.4 632.9 542.9 628.6 545.0 627.1C547.1 625.6 553.5 621.0 555.3 619.3C557.2 617.6 561.6 611.7 563.1 610.3C564.7 608.8 569.3 605.9 570.9 605.1C572.4 604.3 577.1 602.5 578.6 602.0C580.2 601.4 585.0 600.0 586.4 599.4C587.8 598.8 591.6 596.0 592.9 596.0C594.2 596.1 597.9 599.0 599.4 599.9C600.8 600.8 605.3 603.9 607.1 605.1C608.9 606.2 615.4 610.4 617.5 611.6C619.5 612.7 625.8 615.5 627.8 616.2C629.9 616.9 636.5 618.1 638.2 618.5C639.9 619.0 643.4 620.0 644.7 620.6C646.0 621.2 649.7 623.9 651.1 624.5C652.6 625.1 657.3 626.8 658.9 627.1C660.5 627.4 664.9 628.0 666.7 627.9C668.5 627.7 675.2 626.1 677.0 625.8C678.8 625.5 683.0 624.8 684.8 624.8C686.6 624.8 693.1 625.6 695.1 625.8C697.2 625.9 703.6 626.2 705.5 626.3C707.4 626.4 712.9 627.2 714.6 627.1C716.2 627.0 720.8 626.1 722.3 625.3C723.9 624.5 728.4 620.8 730.1 619.3C731.8 617.8 737.3 611.8 739.2 610.3C741.0 608.7 746.5 604.7 748.2 603.8C749.9 602.8 754.3 600.9 756.0 600.7C757.7 600.4 763.4 601.2 765.0 601.2C766.7 601.2 771.4 600.2 772.8 600.4C774.2 600.7 777.9 603.1 779.3 603.8C780.7 604.5 785.6 607.0 787.1 607.7C788.5 608.3 792.2 609.9 793.5 610.3C794.8 610.6 798.1 611.3 800.0 611.6C801.9 611.8 810.6 612.7 812.9 612.3C815.3 611.9 821.2 608.7 823.3 607.7C825.4 606.7 831.6 603.4 833.7 602.5C835.7 601.5 842.3 598.6 844.0 598.1C845.7 597.6 849.1 596.9 850.5 597.3C851.9 597.8 856.6 601.2 858.3 602.5C859.9 603.8 865.4 608.8 867.3 610.3C869.3 611.8 875.6 616.5 877.7 617.5C879.7 618.5 885.8 620.2 888.0 620.6C890.2 621.1 897.5 621.9 899.7 621.9C901.9 621.9 908.1 621.1 910.0 620.6C912.0 620.1 917.2 617.6 919.1 616.7C921.0 615.9 927.4 613.0 929.4 612.3C931.5 611.6 938.0 610.1 939.8 609.7C941.6 609.4 946.0 609.0 947.6 608.4C949.1 607.9 953.8 604.6 955.3 603.8C956.9 602.9 961.7 600.3 963.1 599.9C964.5 599.5 968.2 599.1 969.6 599.4C971.0 599.6 975.8 601.8 977.3 602.5C978.9 603.2 983.6 605.9 985.1 606.4C986.7 606.9 991.3 607.8 992.9 607.7C994.4 607.5 999.0 606.0 1000.6 605.1C1002.3 604.2 1008.0 600.0 1009.7 598.6C1011.4 597.2 1016.1 592.4 1017.5 590.8C1018.9 589.3 1022.5 584.5 1023.9 583.1C1025.4 581.7 1030.0 578.0 1031.7 576.6C1033.4 575.2 1039.0 570.4 1040.8 568.8C1042.6 567.3 1048.0 562.5 1049.8 561.1C1051.7 559.6 1057.3 555.4 1058.9 554.6C1060.5 553.7 1063.9 552.5 1065.4 552.5C1066.8 552.5 1071.5 553.7 1073.1 554.6C1074.8 555.4 1080.3 559.6 1082.2 561.1C1084.1 562.5 1090.5 567.4 1092.6 568.8C1094.6 570.3 1101.1 574.1 1102.9 575.3C1104.7 576.6 1109.1 579.8 1110.7 581.3C1112.2 582.7 1116.9 587.6 1118.4 589.5C1120.0 591.5 1124.7 598.7 1126.2 601.2C1127.8 603.7 1132.4 612.1 1134.0 614.1C1135.5 616.2 1140.2 620.5 1141.7 621.9C1143.3 623.3 1147.8 626.8 1149.5 627.9C1151.2 629.0 1156.8 632.2 1158.6 633.0C1160.4 633.9 1166.5 636.2 1167.6 636.7C1168.8 637.1 1170.0 637.4 1170.2 637.4" stroke="#f08a35" stroke-width="1.25" fill="none" stroke-linejoin="round"/>
<path d="M3.9 589.0C4.8 589.6 10.5 593.8 12.9 594.7C15.4 595.7 25.9 597.1 28.5 598.6C31.1 600.2 37.1 608.6 38.8 610.3C40.6 611.9 44.8 616.2 46.1 615.4C47.4 614.7 50.6 605.6 51.8 602.5C53.0 599.4 57.1 586.6 58.3 584.4C59.4 582.2 62.5 580.5 63.4 580.5C64.3 580.5 66.1 581.9 67.3 584.4C68.5 586.8 73.8 602.4 75.1 605.1C76.4 607.8 78.4 611.0 80.3 611.6C82.1 612.1 91.0 611.3 93.2 610.8C95.4 610.2 100.5 605.7 102.3 605.9C104.1 606.1 109.6 612.5 111.3 612.8C113.0 613.2 117.4 609.9 119.1 609.7C120.8 609.5 126.6 611.2 128.2 610.8C129.7 610.3 132.8 607.0 134.6 605.1C136.4 603.1 143.7 592.5 146.3 591.4C148.9 590.2 158.3 592.4 160.5 593.4C162.7 594.4 166.5 599.5 168.3 601.2C170.1 602.9 176.6 609.0 178.6 610.3C180.7 611.6 187.1 612.9 189.0 614.1C190.9 615.4 195.5 622.8 197.3 622.7C199.1 622.6 204.8 614.6 207.1 612.8C209.4 611.1 217.6 607.0 220.1 605.1C222.5 603.1 229.6 594.6 231.7 593.4C233.8 592.2 238.4 592.7 240.8 592.9C243.1 593.2 253.2 595.1 255.0 596.0C256.8 597.0 258.0 602.6 258.9 602.5C259.8 602.4 262.9 595.7 264.1 594.7C265.2 593.8 269.0 592.4 270.6 592.9C272.1 593.4 277.7 598.7 279.6 599.9C281.6 601.1 287.9 605.1 290.0 605.1C292.0 605.1 297.2 601.2 300.3 599.9C303.4 598.6 318.4 594.3 321.0 592.1C323.7 589.9 325.2 579.8 326.7 577.9C328.3 576.0 334.4 573.8 336.6 572.7C338.7 571.7 346.0 567.9 348.2 567.5C350.4 567.2 356.5 568.7 358.6 569.4C360.6 570.0 366.7 573.9 368.9 574.0C371.1 574.1 378.6 570.0 380.6 570.6C382.5 571.3 386.8 578.3 388.3 580.5C389.9 582.6 395.0 590.8 396.1 592.1C397.3 593.5 398.8 594.3 400.0 594.2C401.2 594.2 405.6 592.0 407.8 591.6C410.0 591.3 419.9 590.4 422.0 590.8C424.1 591.3 427.1 595.0 428.5 596.0C429.9 597.1 434.7 599.9 436.2 601.2C437.8 602.5 442.3 607.2 444.0 609.0C445.7 610.7 451.6 617.8 453.1 618.5C454.6 619.2 457.9 615.0 459.0 616.0C460.1 616.9 463.0 626.0 464.2 627.9C465.4 629.8 469.9 633.6 471.2 634.9C472.5 636.1 476.7 639.5 477.7 640.0C478.6 640.6 479.9 640.5 480.8 640.0C481.7 639.6 485.5 635.9 486.7 635.4C488.0 634.9 491.9 635.0 493.2 634.9C494.5 634.7 498.6 633.2 499.7 633.6C500.7 633.9 502.4 637.6 503.6 638.7C504.7 639.9 509.8 644.2 511.3 645.2C512.8 646.2 517.5 649.0 518.6 648.6C519.6 648.2 521.0 642.8 521.7 641.3C522.4 639.8 524.7 634.7 525.6 633.6C526.5 632.4 529.6 630.3 530.7 629.7C531.9 629.0 535.9 628.1 537.2 627.1C538.5 626.1 542.1 620.9 543.7 619.3C545.2 617.8 551.2 613.2 552.8 611.6C554.3 609.9 557.9 604.0 559.2 602.5C560.5 601.0 564.5 597.3 565.7 596.8C566.9 596.3 569.8 597.1 570.9 597.3C571.9 597.6 575.0 599.3 576.1 599.4C577.1 599.5 580.2 599.3 581.2 598.6C582.3 597.9 585.6 593.2 586.4 592.1C587.3 591.0 589.1 587.2 589.8 587.5C590.4 587.7 592.3 593.2 592.9 594.7C593.4 596.2 594.7 601.2 595.5 602.5C596.2 603.8 599.5 606.7 600.6 607.7C601.8 608.7 605.7 611.5 607.1 612.3C608.5 613.2 613.3 615.1 614.9 616.0C616.4 616.8 621.1 620.7 622.7 621.1C624.2 621.6 629.3 620.9 630.4 620.6C631.6 620.3 633.1 618.2 634.3 618.0C635.5 617.9 640.8 618.5 642.1 619.3C643.4 620.1 646.2 624.5 647.2 625.8C648.3 627.1 651.5 631.8 652.4 632.3C653.3 632.7 655.5 630.6 656.3 630.5C657.1 630.3 659.2 631.2 660.2 631.0C661.2 630.8 665.2 629.0 666.7 628.4C668.1 627.8 673.0 625.7 674.4 625.3C675.9 624.8 679.7 623.9 680.9 623.7C682.1 623.6 684.9 623.4 686.1 623.7C687.2 624.1 691.4 626.7 692.6 627.1C693.7 627.5 696.6 627.8 697.7 627.6C698.9 627.4 703.0 625.2 704.2 625.3C705.4 625.4 708.5 627.9 709.4 628.4C710.3 628.8 712.4 630.1 713.3 629.7C714.2 629.3 717.5 625.4 718.4 624.5C719.4 623.6 721.6 621.8 722.3 620.6C723.1 619.4 725.2 614.4 726.2 612.8C727.2 611.3 731.4 606.4 732.7 605.1C734.0 603.7 737.7 600.3 739.2 599.4C740.6 598.5 745.6 596.2 746.9 596.0C748.2 595.8 750.9 596.8 752.1 597.3C753.3 597.8 757.5 600.6 758.6 601.2C759.6 601.8 761.4 604.0 762.5 603.8C763.5 603.6 767.8 599.5 768.9 599.4C770.1 599.3 773.2 601.4 774.1 602.5C775.0 603.6 777.4 609.1 778.0 610.3C778.6 611.4 779.3 613.9 780.1 614.1C780.8 614.4 784.9 612.7 785.8 612.8C786.6 613.0 787.6 615.3 788.3 615.4C789.1 615.6 792.4 614.5 793.5 614.1C794.7 613.8 798.3 612.2 800.0 612.1C801.7 611.9 808.9 612.7 810.4 612.8C811.9 613.0 814.2 613.9 815.0 613.4C815.8 612.8 817.0 608.9 818.1 607.7C819.2 606.5 824.5 602.3 825.9 601.2C827.3 600.1 831.1 597.5 832.4 596.8C833.7 596.0 837.5 594.0 838.8 593.7C840.2 593.4 844.9 593.1 846.1 593.7C847.2 594.3 849.5 598.1 850.5 599.4C851.4 600.7 854.5 604.9 855.7 606.4C856.8 607.9 860.9 612.8 862.1 614.1C863.4 615.4 866.5 618.5 867.8 619.3C869.1 620.2 873.8 622.2 875.1 622.7C876.3 623.1 879.5 623.5 880.3 623.7C881.0 624.0 881.9 625.5 882.8 625.3C883.8 625.1 887.9 622.1 889.3 621.9C890.7 621.8 895.7 623.7 897.1 623.7C898.5 623.7 902.3 622.2 903.6 621.9C904.9 621.6 909.0 621.4 910.0 620.6C911.1 619.8 913.1 614.9 913.9 614.1C914.7 613.4 917.0 613.0 917.8 612.8C918.6 612.7 920.6 613.2 921.7 612.8C922.7 612.5 927.0 610.3 928.2 609.7C929.3 609.2 932.2 607.4 933.3 607.2C934.5 606.9 938.4 607.2 939.8 607.2C941.2 607.1 946.3 607.4 947.6 606.6C948.9 605.9 951.7 601.0 952.8 599.9C953.8 598.8 957.0 595.8 957.9 595.2C958.8 594.7 960.9 594.0 961.8 594.2C962.7 594.4 966.0 596.5 967.0 597.3C968.0 598.1 971.0 601.3 972.2 602.5C973.3 603.7 977.6 608.0 978.6 609.0C979.7 609.9 981.6 612.3 982.5 612.3C983.4 612.4 986.5 610.1 987.7 609.7C988.9 609.4 993.0 609.2 994.2 608.4C995.3 607.7 998.3 603.9 999.4 602.5C1000.4 601.1 1003.4 596.1 1004.5 594.7C1005.7 593.3 1009.8 589.8 1011.0 588.3C1012.2 586.7 1015.0 580.7 1016.2 579.2C1017.3 577.6 1021.5 573.8 1022.7 572.7C1023.8 571.6 1026.8 569.1 1027.8 568.3C1028.9 567.5 1031.8 565.8 1033.0 565.0C1034.2 564.1 1038.2 560.8 1039.5 559.8C1040.8 558.8 1044.7 556.1 1046.0 555.1C1047.2 554.2 1051.3 551.0 1052.4 550.2C1053.6 549.4 1056.7 547.4 1057.6 547.1C1058.5 546.8 1060.6 546.9 1061.5 547.3C1062.4 547.8 1065.4 550.9 1066.7 552.0C1068.0 553.1 1072.9 556.9 1074.4 558.5C1076.0 560.0 1080.5 565.9 1082.2 567.5C1083.9 569.2 1089.4 574.0 1091.3 575.3C1093.1 576.6 1098.8 579.6 1100.3 580.5C1101.9 581.4 1105.5 583.1 1106.8 584.4C1108.1 585.7 1112.0 591.6 1113.3 593.4C1114.6 595.2 1118.6 600.0 1119.7 602.5C1120.9 605.0 1123.9 615.7 1124.9 618.0C1126.0 620.4 1128.9 624.5 1130.1 625.8C1131.3 627.1 1135.4 630.3 1136.6 631.0C1137.7 631.6 1140.6 631.8 1141.7 632.3C1142.9 632.7 1146.8 635.0 1148.2 635.6C1149.6 636.2 1154.3 637.7 1156.0 638.2C1157.7 638.8 1163.6 641.3 1165.0 641.3C1166.5 641.3 1169.7 638.5 1170.2 638.2" stroke="#3f97dc" stroke-width="1.25" fill="none" stroke-linejoin="round"/>
<text x="13" y="555.7" font-size="12" fill="#363a45" textLength="111" lengthAdjust="spacingAndGlyphs">MACD 12 26 close 9</text>
<text x="133.3" y="555.7" font-size="12" fill="#fbd9d8" textLength="38.4" lengthAdjust="spacingAndGlyphs">−0.140</text>
<text x="178.6" y="555.7" font-size="12" fill="#3f97dc" textLength="37.6" lengthAdjust="spacingAndGlyphs">−3.477</text>
<text x="223.2" y="555.7" font-size="12" fill="#f28a33" textLength="38.3" lengthAdjust="spacingAndGlyphs">−3.337</text>
<text x="13" y="26" font-size="15.5" fill="#1e222d" font-family="'Liberation Sans','Noto Sans CJK SC',sans-serif" textLength="31.5" lengthAdjust="spacingAndGlyphs">黄金</text>
<text x="46.9" y="25.4" font-size="15.5" fill="#1e222d">/</text>
<text x="53.5" y="26" font-size="15.5" fill="#1e222d" font-family="'Liberation Sans','Noto Sans CJK SC',sans-serif" textLength="31.5" lengthAdjust="spacingAndGlyphs">美元</text>
<text x="89.3" y="24.8" font-size="14" fill="#a0a4ae">·</text>
<text x="98.6" y="24.8" font-size="14.3" fill="#1e222d" textLength="15.2" lengthAdjust="spacingAndGlyphs">1h</text>
<text x="118.6" y="24.8" font-size="14" fill="#a0a4ae">·</text>
<text x="127" y="24.8" font-size="14.3" fill="#1e222d" textLength="49.2" lengthAdjust="spacingAndGlyphs">OANDA</text>
<clipPath id="pl"><rect x="191" y="10" width="20" height="18.6"/></clipPath><clipPath id="pr"><rect x="211" y="10" width="20.5" height="18.6"/></clipPath>
<rect clip-path="url(#pl)" x="191" y="10" width="40" height="18.6" rx="9.3" fill="#dff2ef"/>
<rect clip-path="url(#pr)" x="191" y="10" width="40" height="18.6" rx="9.3" fill="#fbe0ea"/>
<circle cx="202" cy="19.2" r="3.9" fill="#159489"/>
<path d="M216 18.2c1.6-1.6 3-1.4 4.2-0.5s2.4 0.9 3.8-0.5 M216 22c1.6-1.6 3-1.4 4.2-0.5s2.4 0.9 3.8-0.5" stroke="#e0306d" stroke-width="1.4" fill="none"/>
<text x="246.7" y="24.9" font-size="12.4" fill="#2a2e39" font-family="'Liberation Sans','Noto Sans CJK SC',sans-serif">开</text>
<text x="259.5" y="24.4" font-size="12.4" fill="#2a2e39">=</text>
<text x="268.4" y="24.5" font-size="12.9" fill="#e0564e" textLength="51.3" lengthAdjust="spacingAndGlyphs">1810.375</text>
<text x="326.8" y="24.9" font-size="12.4" fill="#2a2e39" font-family="'Liberation Sans','Noto Sans CJK SC',sans-serif">高</text>
<text x="339.59999999999997" y="24.4" font-size="12.4" fill="#2a2e39">=</text>
<text x="347.2" y="24.5" font-size="12.9" fill="#e0564e" textLength="51.8" lengthAdjust="spacingAndGlyphs">1810.915</text>
<text x="406" y="24.9" font-size="12.4" fill="#2a2e39" font-family="'Liberation Sans','Noto Sans CJK SC',sans-serif">低</text>
<text x="418.9" y="24.4" font-size="12.4" fill="#2a2e39">=</text>
<text x="427" y="24.5" font-size="12.9" fill="#e0564e" textLength="51.5" lengthAdjust="spacingAndGlyphs">1810.015</text>
<text x="486.3" y="24.9" font-size="12.4" fill="#2a2e39" font-family="'Liberation Sans','Noto Sans CJK SC',sans-serif">收</text>
<text x="498.9" y="24.4" font-size="12.4" fill="#2a2e39">=</text>
<text x="506.8" y="24.5" font-size="12.9" fill="#e0564e" textLength="51.8" lengthAdjust="spacingAndGlyphs">1810.280</text>
<text x="565.6" y="24.5" font-size="12.9" fill="#e0564e" textLength="36.6" lengthAdjust="spacingAndGlyphs">−0.095</text>
<text x="608.7" y="24.5" font-size="12.9" fill="#e0564e" textLength="48" lengthAdjust="spacingAndGlyphs">(−0.01%)</text>
<rect x="12.5" y="35.5" width="67" height="23.5" rx="4" fill="#fff" stroke="#e27a70" stroke-width="1"/>
<text x="21" y="51.6" font-size="13.2" fill="#e0564e" textLength="51.4" lengthAdjust="spacingAndGlyphs">1810.155</text>
<text x="88.5" y="51.6" font-size="13.2" fill="#4a4e59" textLength="22.3" lengthAdjust="spacingAndGlyphs">25.0</text>
<rect x="119.5" y="35.5" width="67.5" height="23.5" rx="4" fill="#fff" stroke="#4a6fa8" stroke-width="1"/>
<text x="128.4" y="51.6" font-size="13.2" fill="#3d6fd8" textLength="50.8" lengthAdjust="spacingAndGlyphs">1810.405</text>
<text x="13.2" y="79.8" font-size="12.8" fill="#bfc2cc" textLength="17.6" lengthAdjust="spacingAndGlyphs">Vol</text>
<g stroke="#2a2e39" stroke-width="1.25" fill="none" stroke-linecap="round"><path d="M41.2 75Q49 63.2 57 75Q49 86.8 41.2 75z"/><circle cx="49" cy="75" r="2.5"/><path d="M43.2 80.9L55 68.9"/></g>
<defs><filter id="sh" x="-5%" y="-300%" width="110%" height="800%"><feGaussianBlur stdDeviation="1.8"/></filter></defs>
<rect x="702" y="-8" width="416" height="13.6" rx="5" fill="#8d93a8" opacity="0.75" filter="url(#sh)"/>
<rect x="701" y="-8" width="418" height="11.8" rx="5.5" fill="#fff"/>
<clipPath id="cb"><rect x="1470" y="660.4" width="70" height="2"/></clipPath>
<text clip-path="url(#cb)" x="1481.5" y="670.2" font-size="12" fill="#1c2030" textLength="35" lengthAdjust="spacingAndGlyphs">10:02:41</text>
<text x="1417" y="646" font-size="38" fill="#8a8a8a" opacity="0.5" font-family="'Liberation Serif','Noto Serif CJK SC',serif" textLength="116" lengthAdjust="spacingAndGlyphs">汇外网</text>
</svg></body></html>
